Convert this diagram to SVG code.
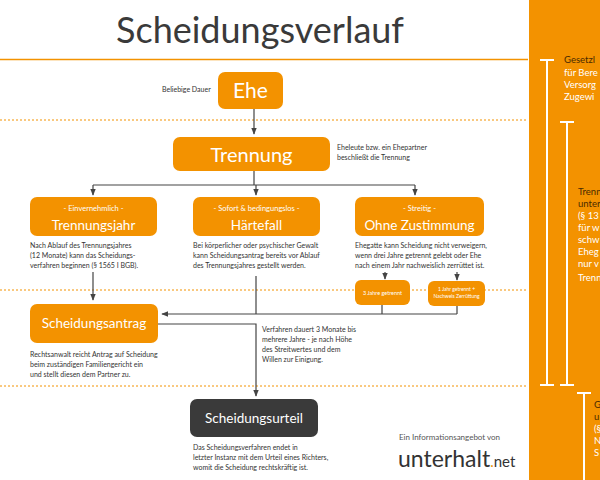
<svg xmlns="http://www.w3.org/2000/svg" width="600" height="480" viewBox="0 0 600 480">
<style>
text{font-family:Lato,"Open Sans",sans-serif}
.box{fill:#F39200}
.w{fill:#fff}
.s{font-size:7px;fill:#333}
.c{fill:none;stroke:#444;stroke-width:1.2}
.d{stroke:#F39200;stroke-width:1;stroke-dasharray:2,2}
.bar{stroke:#fff;stroke-width:2;fill:none}
.pd{font-size:9.5px;fill:#4a2a00}
.pw{font-size:9.5px;fill:#fff}
</style>
<defs><marker id="a" viewBox="0 0 10 10" refX="9" refY="5" markerWidth="6" markerHeight="6" orient="auto"><path d="M0,1L10,5L0,9z" fill="#444"/></marker></defs>
<rect width="600" height="480" fill="#fff"/>
<text x="260" y="43" text-anchor="middle" font-size="36" fill="#3a3a3a">Scheidungsverlauf</text>
<line x1="0" y1="59.5" x2="528" y2="59.5" stroke="#F39200" stroke-width="1.5"/>
<line class="d" x1="0" y1="120" x2="528" y2="120"/>
<line class="d" x1="0" y1="290" x2="528" y2="290"/>
<line class="d" x1="0" y1="386" x2="528" y2="386"/>
<g id="connectors">
<path class="c" d="M254,109V134" marker-end="url(#a)"/>
<path class="c" d="M254,171V185M93,185H415"/>
<path class="c" d="M93,185V195" marker-end="url(#a)"/>
<path class="c" d="M256,185V195" marker-end="url(#a)"/>
<path class="c" d="M415,185V195" marker-end="url(#a)"/>
<path class="c" d="M93,272V300" marker-end="url(#a)"/>
<path class="c" d="M385,272V279" marker-end="url(#a)"/>
<path class="c" d="M457,272V280" marker-end="url(#a)"/>
<path class="c" d="M382,305V314M457,306V314M256,276V314M457,314H162" marker-end="url(#a)"/>
<path class="c" d="M158,324H256V396" marker-end="url(#a)"/>
</g>
<g id="ehe"><rect class="box" x="218" y="72" width="65" height="37" rx="7"/><text class="w" x="250.5" y="98" text-anchor="middle" font-size="21">Ehe</text>
<text class="s" x="162" y="92">Beliebige Dauer</text></g>
<g id="trennung"><rect class="box" x="173" y="137" width="157" height="34" rx="7"/><text class="w" x="251.5" y="162" text-anchor="middle" font-size="20">Trennung</text>
<text class="s" x="337" y="150">Eheleute bzw. ein Ehepartner</text><text class="s" x="337" y="160">beschließt die Trennung</text></g>
<g id="trennungsjahr"><rect class="box" x="30" y="197" width="127" height="39" rx="7"/>
<text class="w" x="93.5" y="211" text-anchor="middle" font-size="7.5">- Einvernehmlich -</text>
<text class="w" x="93.5" y="230" text-anchor="middle" font-size="13.5">Trennungsjahr</text>
<text class="s" x="30" y="248">Nach Ablauf des Trennungsjahres</text><text class="s" x="30" y="258">(12 Monate) kann das Scheidungs-</text><text class="s" x="30" y="268">verfahren beginnen (§ 1565 I BGB).</text></g>
<g id="haertefall"><rect class="box" x="193" y="197" width="127" height="39" rx="7"/>
<text class="w" x="256.5" y="211" text-anchor="middle" font-size="7.5">- Sofort &amp; bedingungslos -</text>
<text class="w" x="256.5" y="230" text-anchor="middle" font-size="13.5">Härtefall</text>
<text class="s" x="193" y="248">Bei körperlicher oder psychischer Gewalt</text><text class="s" x="193" y="258">kann Scheidungsantrag bereits vor Ablauf</text><text class="s" x="193" y="268">des Trennungsjahres gestellt werden.</text></g>
<g id="ohne"><rect class="box" x="355" y="197" width="129" height="39" rx="7"/>
<text class="w" x="419.5" y="211" text-anchor="middle" font-size="7.5">- Streitig -</text>
<text class="w" x="419.5" y="230" text-anchor="middle" font-size="13.5">Ohne Zustimmung</text>
<text class="s" x="355" y="248">Ehegatte kann Scheidung nicht verweigern,</text><text class="s" x="355" y="258">wenn drei Jahre getrennt gelebt oder Ehe</text><text class="s" x="355" y="268">nach einem Jahr nachweislich zerrüttet ist.</text></g>
<g id="drei"><rect class="box" x="355" y="280" width="55" height="25" rx="6"/><text class="w" x="382.5" y="295" text-anchor="middle" font-size="5.5">3 Jahre getrennt</text></g>
<g id="eins"><rect class="box" x="428" y="281" width="57" height="25" rx="6"/><text class="w" x="456.5" y="291" text-anchor="middle" font-size="5">1 Jahr getrennt +</text><text class="w" x="456.5" y="298" text-anchor="middle" font-size="5">Nachweis Zerrüttung</text></g>
<g id="antrag"><rect class="box" x="30" y="304" width="128" height="39" rx="7"/><text class="w" x="94" y="328" text-anchor="middle" font-size="13.5">Scheidungsantrag</text>
<text class="s" x="30" y="357">Rechtsanwalt reicht Antrag auf Scheidung</text><text class="s" x="30" y="367">beim zuständigen Familiengericht ein</text><text class="s" x="30" y="377">und stellt diesen dem Partner zu.</text></g>
<g id="verfahren"><text class="s" x="262" y="332">Verfahren dauert 3 Monate bis</text><text class="s" x="262" y="342">mehrere Jahre - je nach Höhe</text><text class="s" x="262" y="352">des Streitwertes und dem</text><text class="s" x="262" y="362">Willen zur Einigung.</text></g>
<g id="urteil"><rect x="190" y="399" width="128" height="38" rx="7" fill="#3a3a3a"/><text class="w" x="254" y="423" text-anchor="middle" font-size="13.5">Scheidungsurteil</text>
<text class="s" x="193" y="450">Das Scheidungsverfahren endet in</text><text class="s" x="193" y="460">letzter Instanz mit dem Urteil eines Richters,</text><text class="s" x="193" y="470">womit die Scheidung rechtskräftig ist.</text></g>
<text x="399" y="440" font-size="8" fill="#555">Ein Informationsangebot von</text>
<text x="398" y="467" font-size="23" fill="#333">unterhalt<tspan fill="#F39200" font-size="15">.</tspan><tspan font-size="15">net</tspan></text>
<g id="panel">
<rect x="528" y="0" width="72" height="480" fill="#F39200"/>
<line x1="528.5" y1="0" x2="528.5" y2="480" stroke="#fff" stroke-width="1"/>
<path class="bar" d="M540,60H554M547,60V385M540,385H554"/>
<path class="bar" d="M560,122H574M567,122V385M560,385H574"/>
<path class="bar" d="M577,393H591M584,393V480"/>
<text class="pd" x="564" y="63">Gesetzl</text>
<text class="pw" x="564" y="76">für Bere</text><text class="pw" x="564" y="88">Versorg</text><text class="pw" x="564" y="100">Zugewi</text>
<text class="pd" x="578" y="195">Trenn</text><text class="pd" x="578" y="207">unter</text>
<text class="pw" x="578" y="219">(§ 13</text><text class="pw" x="578" y="231">für w</text><text class="pw" x="578" y="243">schw</text><text class="pw" x="578" y="255">Eheg</text><text class="pw" x="578" y="267">nur v</text>
<text class="pw" x="578" y="281" font-size="8">Trenn</text>
<text class="pd" x="594" y="408">G</text><text class="pd" x="594" y="420">u</text><text class="pw" x="594" y="432">(§</text><text class="pw" x="594" y="444">N</text><text class="pw" x="594" y="456">S</text>
</g>
</svg>
